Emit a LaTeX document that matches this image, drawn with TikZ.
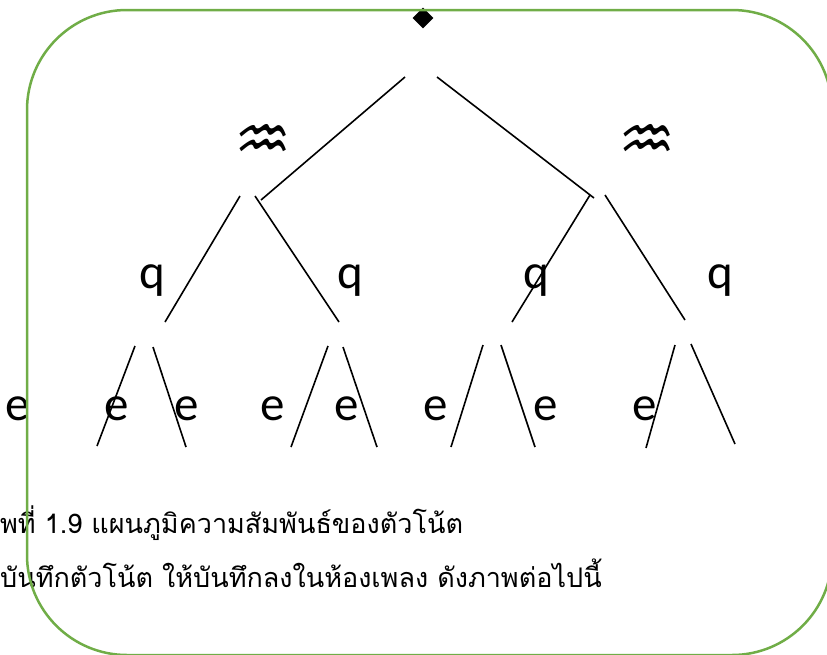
\documentclass[tikz,border=0pt]{standalone}
\usepackage{fontspec}
\newfontfamily\thaifont[Script=Thai]{Loma}
\newfontfamily\notefont{Carlito}
\newfontfamily\symfont{DejaVu Sans}
\usetikzlibrary{shapes.geometric}
\definecolor{framegreen}{RGB}{112,173,71}

\begin{document}
\begin{tikzpicture}
    [
        x=1pt, y=-1pt,
        frame_style/.style={draw=framegreen, line width=2.5pt, rounded corners=100pt},
        branch_style/.style={draw=black, line width=1.6pt},
        root_style/.style={diamond, fill=black, inner sep=0pt, minimum size=21pt},
        rest_style/.style={font=\symfont\fontsize{64}{64}\selectfont, inner sep=0pt},
        note_style/.style={font=\notefont\fontsize{49}{49}\selectfont, inner sep=0pt, anchor=base},
        caption_style/.style={font=\thaifont\fontsize{27}{27}\selectfont, inner sep=0pt, anchor=base west}
    ]
        \clip (0,0) rectangle (827,654);

        % top of the tree
        \node[root_style] (root) at (423,18) {};
        \node[rest_style] (rest1) at (263,143) {♒};
        \node[rest_style] (rest2) at (647,143) {♒};
        \coordinate (r_l0) at (405,77);
        \coordinate (r_l1) at (261,200);
        \coordinate (r_r0) at (437,77);
        \coordinate (r_r1) at (594,198);
        \draw[branch_style] (r_l0) -- (r_l1);
        \draw[branch_style] (r_r0) -- (r_r1);

        % second level
        \node[note_style] (q1) at (152,288) {q};
        \node[note_style] (q2) at (350,288) {q};
        \node[note_style] (q3) at (536,288) {q};
        \node[note_style] (q4) at (720,288) {q};
        \coordinate (a_l0) at (240,196);
        \coordinate (a_l1) at (165,322);
        \coordinate (a_r0) at (255,196);
        \coordinate (a_r1) at (339,322);
        \coordinate (b_l0) at (590,195);
        \coordinate (b_l1) at (512,322);
        \coordinate (b_r0) at (605,195);
        \coordinate (b_r1) at (685,320);
        \draw[branch_style] (a_l0) -- (a_l1);
        \draw[branch_style] (a_r0) -- (a_r1);
        \draw[branch_style] (b_l0) -- (b_l1);
        \draw[branch_style] (b_r0) -- (b_r1);

        % third level
        \node[note_style] (e1) at (18,420) {e};
        \node[note_style] (e2) at (117,420) {e};
        \node[note_style] (e3) at (187,420) {e};
        \node[note_style] (e4) at (273,420) {e};
        \node[note_style] (e5) at (347,420) {e};
        \node[note_style] (e6) at (436,420) {e};
        \node[note_style] (e7) at (546,420) {e};
        \node[note_style] (e8) at (645,420) {e};
        \coordinate (c_l0) at (135,346);
        \coordinate (c_l1) at (97,446);
        \coordinate (c_r0) at (153,347);
        \coordinate (c_r1) at (186,447);
        \coordinate (d_l0) at (328,346);
        \coordinate (d_l1) at (291,447);
        \coordinate (d_r0) at (343,347);
        \coordinate (d_r1) at (377,447);
        \coordinate (f_l0) at (483,345);
        \coordinate (f_l1) at (451,447);
        \coordinate (f_r0) at (501,345);
        \coordinate (f_r1) at (535,447);
        \coordinate (g_l0) at (675,345);
        \coordinate (g_l1) at (646,448);
        \coordinate (g_r0) at (691,344);
        \coordinate (g_r1) at (735,444);
        \draw[branch_style] (c_l0) -- (c_l1);
        \draw[branch_style] (c_r0) -- (c_r1);
        \draw[branch_style] (d_l0) -- (d_l1);
        \draw[branch_style] (d_r0) -- (d_r1);
        \draw[branch_style] (f_l0) -- (f_l1);
        \draw[branch_style] (f_r0) -- (f_r1);
        \draw[branch_style] (g_l0) -- (g_l1);
        \draw[branch_style] (g_r0) -- (g_r1);

        % caption
        \node[caption_style] (cap1) at (0,533) {พที่ 1.9 แผนภูมิความสัมพันธ์ของตัวโน้ต};
        \node[caption_style] (cap2) at (0,587) {บันทึกตัวโน้ต ให้บันทึกลงในห้องเพลง ดังภาพต่อไปนี้};

        \draw[frame_style] (27,10) rectangle (832,655);
    \end{tikzpicture}
\end{document}
